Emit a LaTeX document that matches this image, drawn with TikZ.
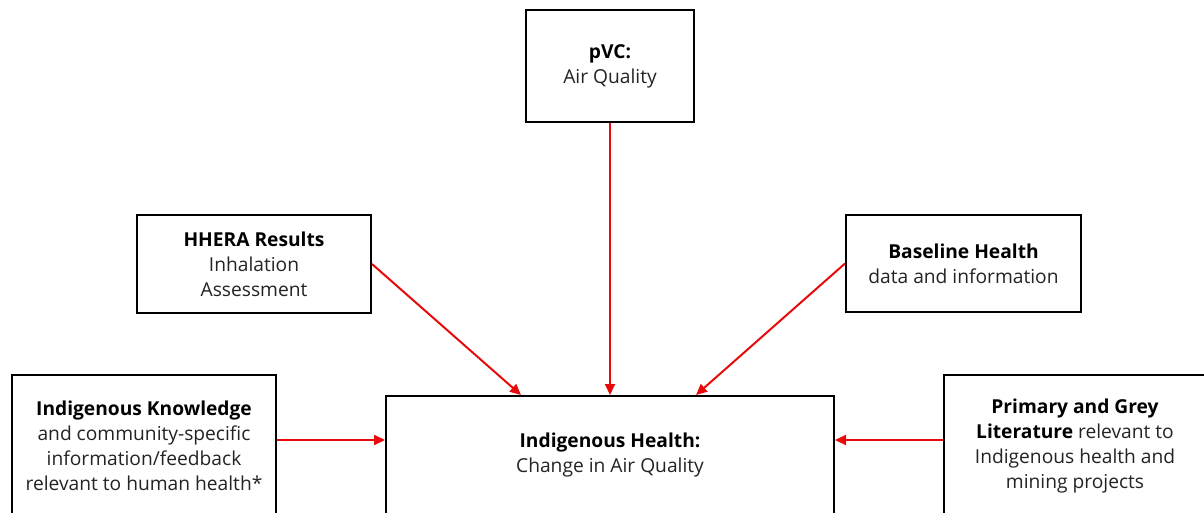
\documentclass[tikz,border=0pt]{standalone}
\usepackage{fontspec}
\setmainfont{Open Sans}
\usetikzlibrary{arrows.meta,calc}
\definecolor{linkred}{RGB}{232,10,10}
\definecolor{bodytext}{RGB}{35,35,35}
\tikzset{
  box/.style={draw=black, line width=2pt, rectangle, inner sep=0pt,
    align=center, text=bodytext,
    font=\fontsize{19.2}{25}\selectfont},
  link/.style={draw=linkred, line width=2pt,
    -{Triangle[length=11pt,width=10pt]}, shorten >=0pt},
}
\newcommand{\hd}[1]{\textbf{\color{black}#1}}
\begin{document}
\begin{tikzpicture}[x=1pt,y=-1pt]
\useasboundingbox (0,0) rectangle (1204,512);
\clip (0,0) rectangle (1204,512);

% source boxes
\node[box, minimum width=168pt, minimum height=112pt] (pvc) at (610,66)
  {\hd{pVC:}\\Air Quality};
\node[box, minimum width=234pt, minimum height=98pt] (hhera) at (254,264)
  {\hd{HHERA Results}\\Inhalation\\Assessment};
\node[box, minimum width=235pt, minimum height=97pt] (base) at (963.5,263.5)
  {\hd{Baseline Health}\\data and information};
\node[box, minimum width=264pt, minimum height=142pt] (ik) at (144,446)
  {\hd{Indigenous Knowledge}\\and community-specific\\information/feedback\\relevant to human health*};
\node[box, minimum width=262pt, minimum height=142pt] (lit) at (1075,446)
  {\hd{Primary and Grey}\\\hd{Literature} relevant to\\Indigenous health and\\mining projects};

% central outcome box
\node[box, minimum width=448pt, minimum height=118pt] (ih) at (610,455)
  {\hd{Indigenous Health:}\\Change in Air Quality};

% landing points on the outcome box
\coordinate (ihL) at ($(ih.north west)+(136,0)$);
\coordinate (ihR) at ($(ih.north east)+(-139,0)$);

% connectors
\draw[link] (pvc.south) -- (ih.north);
\draw[link] (hhera.east) -- (ihL);
\draw[link] (base.west) -- (ihR);
\draw[link] (ik.east |- 0,440) -- (ih.west |- 0,440);
\draw[link] (lit.west |- 0,440) -- (ih.east |- 0,440);
\end{tikzpicture}
\end{document}
